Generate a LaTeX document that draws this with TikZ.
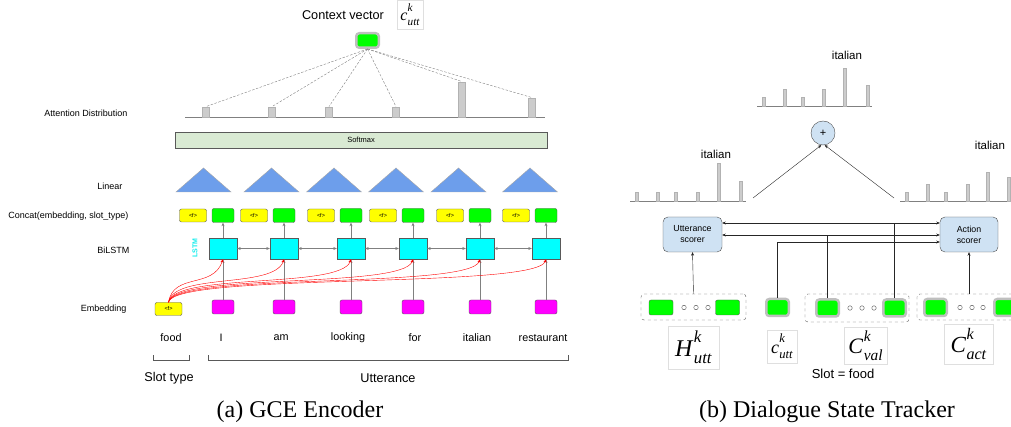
\documentclass[tikz,border=0pt]{standalone}
\usepackage{amsmath}
\usepackage{fontspec}
\setmainfont{Liberation Serif}
\setsansfont{Liberation Sans}
\usetikzlibrary{arrows.meta,shapes,positioning}

\definecolor{softgreen}{HTML}{D9EAD3}
\definecolor{triblue}{HTML}{6D9EEB}
\definecolor{scorerblue}{HTML}{CFE2F3}
\definecolor{lstmcyan}{RGB}{0,255,255}
\definecolor{embmagenta}{RGB}{255,0,255}
\definecolor{slotyellow}{RGB}{255,255,0}
\definecolor{vecgreen}{RGB}{0,255,0}

% italic symbol with a superscript and a subscript, set in the text font
\newcommand\vecsym[3]{\textit{#1}\kern.02em\rlap{\raisebox{.58em}{\scalebox{.7}{\textit{#2}}}}\raisebox{-.3em}{\scalebox{.7}{\textit{#3}}}}

\begin{document}
\begin{tikzpicture}[x=1pt,y=-1pt,>={Stealth[length=3.5pt,width=3pt]},font=\sffamily]
\tikzstyle{rowname}=[anchor=east, font=\sffamily\fontsize{9}{10}\selectfont]
\tikzstyle{word}=[font=\sffamily\fontsize{10.8}{12}\selectfont]
\tikzstyle{big}=[font=\sffamily\fontsize{12.7}{14}\selectfont]
\tikzstyle{caption}=[font=\rmfamily\fontsize{24}{28}\selectfont]
\tikzstyle{slot}=[rectangle, draw=gray!70!black, fill=slotyellow, rounded corners=2pt,
                  minimum width=27, minimum height=13, inner sep=0,
                  font=\sffamily\fontsize{5.5}{6}\selectfont]
\tikzstyle{emb}=[rectangle, draw=gray!70!black, fill=vecgreen, rounded corners=2pt,
                 minimum width=22, minimum height=14, inner sep=0]
\tikzstyle{cell}=[rectangle, draw=gray!70!black, fill=lstmcyan, minimum width=28, minimum height=21]
\tikzstyle{wordvec}=[rectangle, draw=gray!70!black, fill=embmagenta, rounded corners=2pt,
                     minimum width=22, minimum height=14, inner sep=0]
\tikzstyle{bar}=[rectangle, draw=gray!60, fill=gray!40, minimum width=7, inner sep=0, anchor=south]
\tikzstyle{thinbar}=[bar, minimum width=3]
\tikzstyle{vec}=[rectangle, fill=vecgreen, draw=gray!50, line width=2.5pt, rounded corners=3pt,
                 minimum width=22.5, minimum height=17, inner sep=0]
\tikzstyle{plainvec}=[rectangle, fill=vecgreen, draw=gray!70!black, rounded corners=2pt,
                      minimum width=24, minimum height=15, inner sep=0]
\tikzstyle{group}=[rectangle, draw=gray!70!black, dashed, rounded corners=3pt, inner sep=0]
\tikzstyle{scorer}=[rectangle, draw=gray!60!black, fill=scorerblue, rounded corners=5pt,
                    minimum width=59, minimum height=35, align=center,
                    font=\sffamily\fontsize{8.8}{11}\selectfont]
\tikzstyle{mathbox}=[rectangle, draw=gray!25, fill=white, inner sep=0]
\tikzstyle{dot}=[circle, draw=gray!60!black, inner sep=0, minimum size=4.5]
\tikzstyle{wire}=[draw=gray!30!black]

\path[use as bounding box, clip] (0,0) rectangle (1011,427);

% ---- GCE encoder ----
\node[big] (ctxname) at (343,15) {Context vector};
\node[mathbox, minimum width=26, minimum height=29, font=\rmfamily\fontsize{16}{18}\selectfont] (ctxsym) at (410,14.5) {\vecsym{c}{k}{utt}};
\node[vec, minimum height=14.5] (ctx) at (367.5,40.5) {};

\draw[gray] (185,117) -- (545,117);
\foreach \x/\h [count=\i] in {206/10,272/10,329/10,396/10,462/35,532/19} {
  \node[bar, minimum height=\h] (A\i) at (\x,117) {};
  \draw[dashed, gray, dash pattern=on 2.5pt off 1.5pt] (ctx.south) -- (A\i.north);
}

\node[rectangle, draw=gray!70!black, fill=softgreen, minimum width=372, minimum height=16,
      font=\sffamily\fontsize{7.5}{9}\selectfont] (soft) at (361,140) {Softmax};

\foreach \x in {203.5,271.5,334,396,458.5,530}
  \filldraw[fill=triblue, draw=gray!70] (\x-27.5,192) -- (\x,168) -- (\x+27.5,192) -- cycle;

\foreach \x [count=\i] in {223,284,351,413,480,546} {
  \node[cell] (L\i) at (\x,248.5) {};
  \node[emb] (E\i) at (\x,215.5) {};
  \node[slot] (S\i) at (\x-30,215.5) {<f>};
  \node[wordvec] (W\i) at (\x,307) {};
  \draw[->, gray] (W\i) -- (L\i);
  \draw[->, gray] (L\i) -- (E\i);
}
\foreach \i [count=\j from 2] in {1,...,5}
  \draw[<->, gray] (L\i) -- (L\j);

\node[slot] (food) at (168.5,309) {<f>};
\foreach \i in {1,...,6}
  \draw[->, red] (food.north) .. controls +(5,-30) and +(-10,30) .. (L\i.south);

\node[rotate=90, text=lstmcyan!85!gray, font=\sffamily\bfseries\fontsize{7}{8}\selectfont] (lstm) at (195,248) {LSTM};

\node[rowname] (r1) at (131,113) {Attention Distribution};
\node[rowname] (r2) at (126,186) {Linear};
\node[rowname] (r3) at (132,216) {Concat(embedding, slot\_type)};
\node[rowname] (r4) at (133,250) {BiLSTM};
\node[rowname] (r5) at (130,309) {Embedding};

\node[word] (w0) at (171,338) {food};
\foreach \x/\w [count=\i] in {221/I,281/am,348/looking,415/for,477/italian,543/restaurant}
  \node[word] (w\i) at (\x,338) {\w};

\draw[gray!70!black] (153,355) -- (153,360) -- (189,360) -- (189,355);
\draw[gray!70!black] (208,355) -- (208,360) -- (568,360) -- (568,355);
\node[big] (slottype) at (169,378) {Slot type};
\node[big] (utt) at (388,378) {Utterance};
\node[caption] (capa) at (300,412) {(a) GCE Encoder};

% ---- dialogue state tracker ----
\node[word, font=\sffamily\fontsize{11.5}{13}\selectfont] (ti) at (847,55) {italian};
\draw[gray] (757,106) -- (872,106);
\foreach \x/\h [count=\i] in {764/9,785/17,803/9,824/17,845/38,868/21}
  \node[thinbar, minimum height=\h] (T\i) at (\x,106) {};

\node[circle, draw=gray!60!black, fill=scorerblue, minimum size=24, inner sep=0,
      font=\sffamily\fontsize{11}{12}\selectfont] (plus) at (823,133) {+};

\node[word, font=\sffamily\fontsize{11.5}{13}\selectfont] (ui) at (716,154) {italian};
\draw[gray] (630,201) -- (746,201);
\foreach \x/\h [count=\i] in {637/9,658/9,676/9,698/9,719/38,741/20}
  \node[thinbar, minimum height=\h] (U\i) at (\x,201) {};

\node[word, font=\sffamily\fontsize{11.5}{13}\selectfont] (ai) at (990,145) {italian};
\draw[gray] (900,201) -- (1011,201);
\foreach \x/\h [count=\i] in {907/9,928/17,946/9,968/17,988/29,1009/24}
  \node[thinbar, minimum height=\h] (R\i) at (\x,201) {};

\coordinate (ufrom) at (753,198);
\coordinate (afrom) at (894,198);
\draw[->, wire] (ufrom) -- (plus.262);
\draw[->, wire] (afrom) -- (plus.278);

\node[scorer] (US) at (692.5,234.5) {Utterance\\scorer};
\node[scorer, minimum width=58] (AS) at (969,234.5) {Action\\scorer};

% candidate vectors
\node[group, minimum width=105, minimum height=26] (HG) at (693.5,307) {};
\node[plainvec] (H1) at (661,307.5) {};
\node[plainvec] (H2) at (727.5,307.5) {};
\foreach \x [count=\i] in {684,696,708} \node[dot] (HD\i) at (\x,307.5) {};

\node[vec] (CU) at (777.5,307.5) {};

\node[group, minimum width=104, minimum height=28] (VG) at (857,308) {};
\node[vec] (V1) at (827.5,308) {};
\node[vec] (V2) at (894.5,308) {};
\foreach \x [count=\i] in {850,862,874} \node[dot] (VD\i) at (\x,308) {};

\node[group, minimum width=104, minimum height=26] (AG) at (969,307) {};
\node[vec] (A1) at (935.5,307.5) {};
\node[vec] (A2) at (1005.5,307.5) {};
\foreach \x [count=\i] in {960,972,983} \node[dot] (AD\i) at (\x,307.5) {};

\draw[->, wire] (HG.north) -- (US.south);
\draw[->, wire] (AG.north) -- (AS.south);

\draw[<->, wire] (US.east |- 0,223) -- (AS.west |- 0,223);
\draw[wire] (V2.north) -- (V2.north |- 0,223);
\draw[<->, wire] (US.east |- 0,235) -- (AS.west |- 0,235);
\draw[wire, semithick] (V1.north) -- (V1.north |- 0,235);
\draw[->, wire] (CU.north) |- (AS.west |- 0,242);

\node[mathbox, minimum width=51, minimum height=43, font=\rmfamily\fontsize{24}{28}\selectfont] (Hsym) at (693.5,347.5) {\vecsym{H}{k}{utt}};
\node[mathbox, minimum width=30, minimum height=33, font=\rmfamily\fontsize{18}{22}\selectfont] (csym) at (782,346.5) {\vecsym{c}{k}{utt}};
\node[mathbox, minimum width=43, minimum height=37, font=\rmfamily\fontsize{22}{26}\selectfont] (Vsym) at (865.5,345.5) {\vecsym{C}{k}{val}};
\node[mathbox, minimum width=49, minimum height=40, font=\rmfamily\fontsize{23}{26}\selectfont] (Asym) at (968.5,344) {\vecsym{C}{k}{act}};
\node[font=\sffamily\fontsize{13}{15}\selectfont] (slot) at (843,374) {Slot = food};

\node[caption] (capb) at (827,412) {(b) Dialogue State Tracker};
\end{tikzpicture}
\end{document}
